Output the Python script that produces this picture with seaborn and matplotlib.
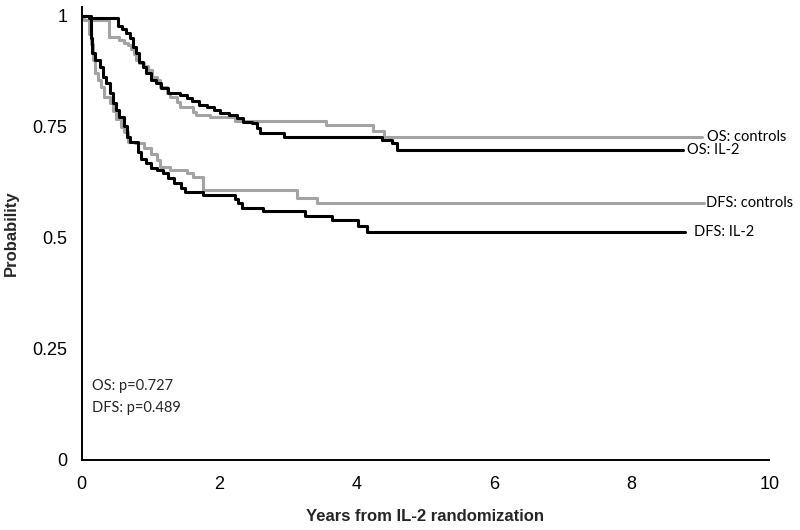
import numpy as np
import pandas as pd
import matplotlib
matplotlib.use("Agg")
import matplotlib.pyplot as plt
import seaborn as sns

# ---- data ----
os_il2_t = [0, 0.11, 0.53, 0.58, 0.65, 0.70, 0.75, 0.79, 0.84, 0.89, 0.94, 1.01,
            1.08, 1.16, 1.25, 1.43, 1.53, 1.60, 1.70, 1.82, 1.92, 2.01, 2.14, 2.26,
            2.35, 2.48, 2.55, 2.60, 2.94, 4.37, 4.52, 4.59, 8.74]
os_il2_s = [1.0, 0.995, 0.977, 0.970, 0.961, 0.950, 0.931, 0.916, 0.897, 0.885,
            0.871, 0.856, 0.848, 0.837, 0.827, 0.822, 0.815, 0.809, 0.800, 0.796,
            0.788, 0.782, 0.777, 0.770, 0.762, 0.758, 0.747, 0.736, 0.728, 0.721,
            0.713, 0.698, 0.698]

os_ctl_t = [0, 0.04, 0.40, 0.55, 0.62, 0.67, 0.72, 0.76, 0.79, 0.84, 0.90, 0.97,
            1.02, 1.09, 1.14, 1.24, 1.28, 1.38, 1.43, 1.62, 1.67, 1.87, 2.23, 3.55,
            4.23, 4.40, 9.02]
os_ctl_s = [1.0, 0.991, 0.953, 0.946, 0.940, 0.935, 0.925, 0.915, 0.900, 0.893,
            0.888, 0.878, 0.863, 0.856, 0.841, 0.826, 0.818, 0.807, 0.796, 0.784,
            0.777, 0.773, 0.764, 0.755, 0.740, 0.728, 0.728]

dfs_il2_t = [0, 0.13, 0.15, 0.19, 0.26, 0.31, 0.36, 0.41, 0.455, 0.50, 0.55, 0.62,
             0.66, 0.70, 0.82, 0.87, 0.94, 1.01, 1.09, 1.18, 1.25, 1.35, 1.45, 1.50,
             1.77, 2.23, 2.27, 2.33, 2.64, 3.25, 3.64, 4.02, 4.15, 8.78]
dfs_il2_s = [1.0, 0.950, 0.916, 0.901, 0.886, 0.863, 0.849, 0.826, 0.804, 0.789,
             0.773, 0.753, 0.728, 0.717, 0.694, 0.679, 0.668, 0.657, 0.653, 0.646,
             0.634, 0.623, 0.612, 0.604, 0.597, 0.588, 0.578, 0.568, 0.560, 0.550,
             0.540, 0.527, 0.514, 0.514]

dfs_ctl_t = [0, 0.10, 0.13, 0.16, 0.19, 0.24, 0.28, 0.33, 0.41, 0.46, 0.50, 0.57,
             0.62, 0.67, 0.77, 0.91, 1.01, 1.09, 1.14, 1.28, 1.53, 1.62, 1.77, 3.13,
             3.42, 9.05]
dfs_ctl_s = [1.0, 0.960, 0.938, 0.901, 0.871, 0.856, 0.841, 0.818, 0.804, 0.787,
             0.769, 0.750, 0.739, 0.717, 0.713, 0.702, 0.690, 0.675, 0.660, 0.653,
             0.646, 0.638, 0.608, 0.589, 0.579, 0.579]

series_names = ["OS: controls", "OS: IL-2", "DFS: controls", "DFS: IL-2"]
series_t = [os_ctl_t, os_il2_t, dfs_ctl_t, dfs_il2_t]
series_s = [os_ctl_s, os_il2_s, dfs_ctl_s, dfs_il2_s]
label_x = [9.10, 8.80, 9.08, 8.91]

x_ticks = [0, 2, 4, 6, 8, 10]
y_ticks = [0, 0.25, 0.5, 0.75, 1]
y_tick_labels = ["0", "0.25", "0.5", "0.75", "1"]
pvals = ["OS: p=0.727", "DFS: p=0.489"]

# ---- styling ----
sns.set_style("white")
plt.rcParams['font.family'] = ['Liberation Sans', 'DejaVu Sans']

colors = {"controls": "#a3a3a3", "IL-2": "#000000"}

fig = plt.figure(figsize=(8, 5.3), dpi=100)
ax = fig.add_axes([0.1021, 0.1321, 0.8594, 0.8545])

for name, t, s in zip(series_names, series_t, series_s):
    col = colors["controls"] if "controls" in name else colors["IL-2"]
    df = pd.DataFrame({"t": t, "s": s})
    sns.lineplot(data=df, x="t", y="s", ax=ax, color=col, lw=2.2,
                 drawstyle="steps-post", estimator=None, sort=False,
                 zorder=3 if "IL-2" in name else 2)

for name, s, lx in zip(series_names, series_s, label_x):
    ax.text(lx, s[-1], name, fontsize=10.5, family=['Lato', 'DejaVu Sans'],
            ha='left', va='center', color='#000000')

ax.text(0.15, 0.166, pvals[0], fontsize=10.5, family=['Lato', 'DejaVu Sans'],
        ha='left', va='center')
ax.text(0.15, 0.116, pvals[1], fontsize=10.5, family=['Lato', 'DejaVu Sans'],
        ha='left', va='center')

ax.set_xlim(0, 10)
ax.set_ylim(0, 1.02)
ax.set_xticks(x_ticks)
ax.set_xticklabels([str(v) for v in x_ticks])
ax.set_yticks(y_ticks)
ax.set_yticklabels(y_tick_labels)

for sp in ["top", "right"]:
    ax.spines[sp].set_visible(False)
for sp in ["left", "bottom"]:
    ax.spines[sp].set_color("black")
    ax.spines[sp].set_linewidth(1.4)

ax.tick_params(axis='both', direction='inout', length=8.5, width=1.6,
               colors='black', labelsize=13)
ax.tick_params(axis='x', pad=7)
ax.tick_params(axis='y', pad=6)

ax.set_xlabel("Years from IL-2 randomization", fontsize=12, fontweight='bold',
              labelpad=12)
ax.set_ylabel("Probability", fontsize=12, fontweight='bold', labelpad=10)

fig.savefig("out.png", dpi=100)
